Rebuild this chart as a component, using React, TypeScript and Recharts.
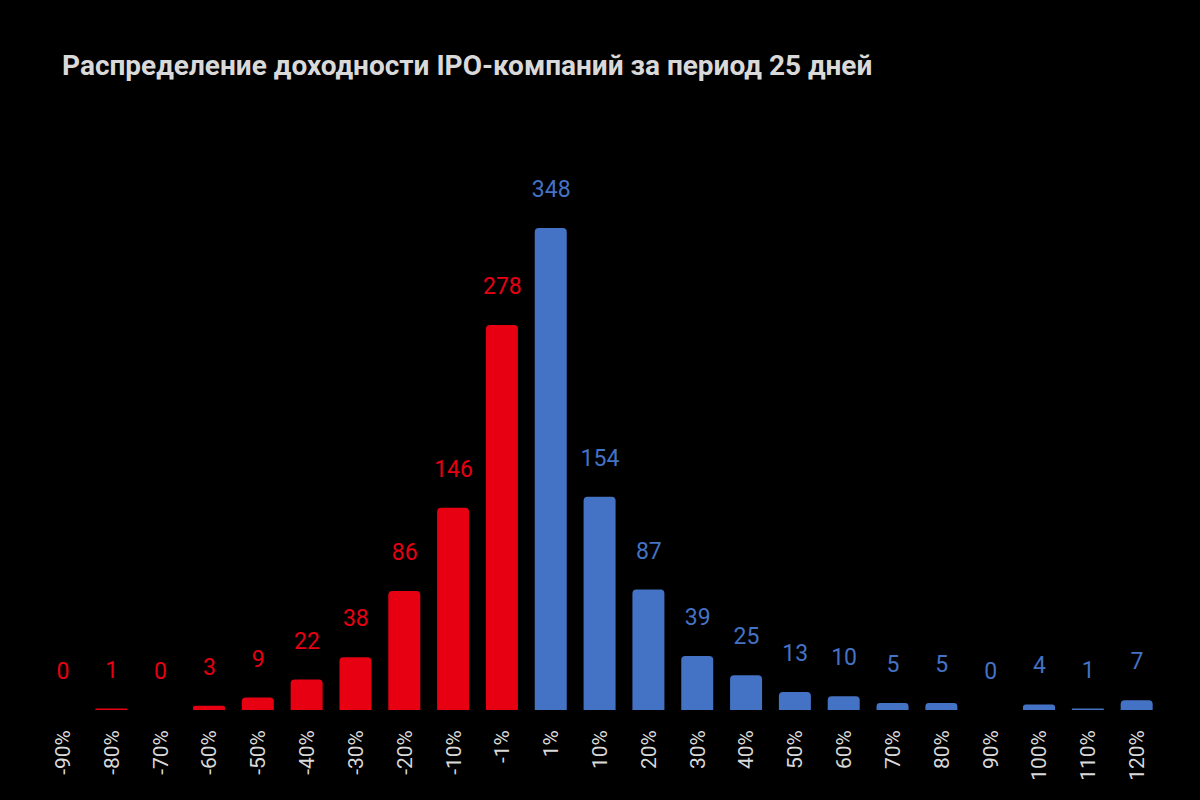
import React from 'react';
import { ComposedChart, Bar, Line, XAxis, YAxis, Cell } from 'recharts';

const categories = ['-90%', '-80%', '-70%', '-60%', '-50%', '-40%', '-30%', '-20%', '-10%', '-1%', '1%', '10%', '20%', '30%', '40%', '50%', '60%', '70%', '80%', '90%', '100%', '110%', '120%'];
const counts = [0, 1, 0, 3, 9, 22, 38, 86, 146, 278, 348, 154, 87, 39, 25, 13, 10, 5, 5, 0, 4, 1, 7];

const RED = '#e60012';
const BLUE = '#4472c4';
const TEXT = '#d9d9d9';
const FONT = 'Roboto, sans-serif';

const data = categories.map((c, i) => ({ name: c, value: counts[i] }));
const colorFor = (name: string) => (name.startsWith('-') ? RED : BLUE);

const Tick = (props: any) => {
  const { x, y, payload } = props;
  return (
    <g transform={`translate(${x},${y + 12})`}>
      <text
        transform="rotate(-90)"
        textAnchor="end"
        dominantBaseline="central"
        fill={TEXT}
        fontSize={21}
        fontFamily={FONT}
      >
        {payload.value}
      </text>
    </g>
  );
};

const ValueLabel = (props: any) => {
  const { x, y, value, index } = props;
  const name = data[index]?.name ?? '';
  return (
    <text
      x={x}
      y={y - 31}
      textAnchor="middle"
      fill={colorFor(name)}
      fontSize={23}
      fontFamily={FONT}
    >
      {value}
    </text>
  );
};

export default function App() {
  return (
    <div style={{ position: 'absolute', left: 0, top: 0, width: 1200, height: 800, background: '#000', overflow: 'hidden' }}>
      <div
        style={{
          position: 'absolute',
          left: 62,
          top: 52,
          fontFamily: FONT,
          fontWeight: 700,
          fontSize: 28,
          lineHeight: 1,
          color: TEXT,
          whiteSpace: 'nowrap',
        }}
      >
        Распределение доходности IPO-компаний за период 25 дней
      </div>
      <ComposedChart
        width={1200}
        height={800}
        data={data}
        margin={{ top: 228, right: 38.5, bottom: 0, left: 38.5 }}
        barSize={32}
      >
        <XAxis
          dataKey="name"
          interval={0}
          tick={<Tick />}
          tickLine={false}
          axisLine={false}
          height={90}
        />
        <YAxis hide domain={[0, 348]} />
        <Bar dataKey="value" isAnimationActive={false} radius={[4, 4, 0, 0]}>
          {data.map((d) => (
            <Cell key={d.name} fill={colorFor(d.name)} />
          ))}
        </Bar>
        <Line
          dataKey="value"
          stroke="none"
          dot={false}
          activeDot={false}
          isAnimationActive={false}
          label={<ValueLabel />}
        />
      </ComposedChart>
    </div>
  );
}
